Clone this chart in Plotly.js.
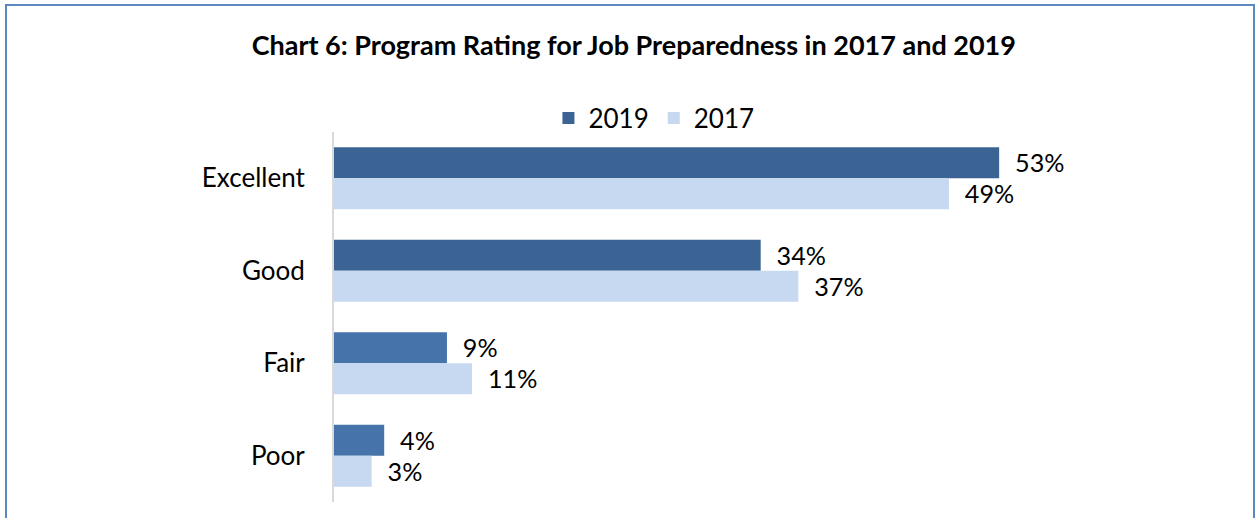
<!DOCTYPE html>
<html><head><meta charset="utf-8">
<script src="https://cdn.plot.ly/plotly-3.0.1.min.js"></script>
<style>
html,body{margin:0;padding:0;background:#fff;width:1260px;height:518px;overflow:hidden;}
#frame{position:absolute;left:5px;top:4px;width:1250px;height:530px;border:2px solid #5B87C3;box-sizing:border-box;}
#chart{position:absolute;left:0;top:0;width:1260px;height:518px;}
</style></head>
<body>
<div id="frame"></div>
<div id="chart"></div>
<script>
var categories = ["Excellent", "Good", "Fair", "Poor"];
var values2019 = [53, 34, 9, 4];
var values2017 = [49, 37, 11, 3];
var seriesNames = ["2019", "2017"];
var colors2019 = ["#3B6495", "#3B6495", "#4673A9", "#4673A9"];
var color2017 = "#C6D9F1";
var FONT = "Lato, 'Open Sans', sans-serif";
var lbl = '\u00a0\u00a0%{x}%';

var t1 = {type:'bar', orientation:'h', name:seriesNames[0], y:categories, x:values2019,
  marker:{color:colors2019}, texttemplate:lbl, textposition:'outside', cliponaxis:false,
  textfont:{size:26,color:'#000',family:FONT}, hoverinfo:'none'};
var t2 = {type:'bar', orientation:'h', name:seriesNames[1], y:categories, x:values2017,
  marker:{color:color2017}, texttemplate:lbl, textposition:'outside', cliponaxis:false,
  textfont:{size:26,color:'#000',family:FONT}, hoverinfo:'none'};

var layout = {
  width:1260, height:518,
  margin:{l:334, r:173, t:132, b:16, autoexpand:false},
  paper_bgcolor:'rgba(0,0,0,0)', plot_bgcolor:'rgba(0,0,0,0)',
  title:{text:'<b>Chart 6: Program Rating for Job Preparedness in 2017 and 2019</b>',
    xref:'container', x:0.503, xanchor:'center', yref:'container', y:0.912, yanchor:'middle',
    font:{family:FONT, size:27, color:'#000'}},
  barmode:'group', bargap:0.33, bargroupgap:0,
  showlegend:true,
  legend:{orientation:'h', xref:'container', x:0.519, xanchor:'center', yref:'container', y:0.772, yanchor:'middle',
    font:{family:FONT, size:26, color:'#000'}, traceorder:'normal', itemwidth:30},
  xaxis:{range:[0,60], showgrid:false, zeroline:false, showticklabels:false, showline:false, ticks:''},
  yaxis:{type:'category', autorange:'reversed', showgrid:false, zeroline:false, showline:true,
    linecolor:'#D9D9D9', linewidth:2, ticks:'', ticklabelstandoff:22,
    tickfont:{family:FONT, size:26, color:'#000'}},
  font:{family:FONT}
};
Plotly.newPlot('chart', [t1, t2], layout, {displayModeBar:false, staticPlot:true});
</script>
</body></html>
